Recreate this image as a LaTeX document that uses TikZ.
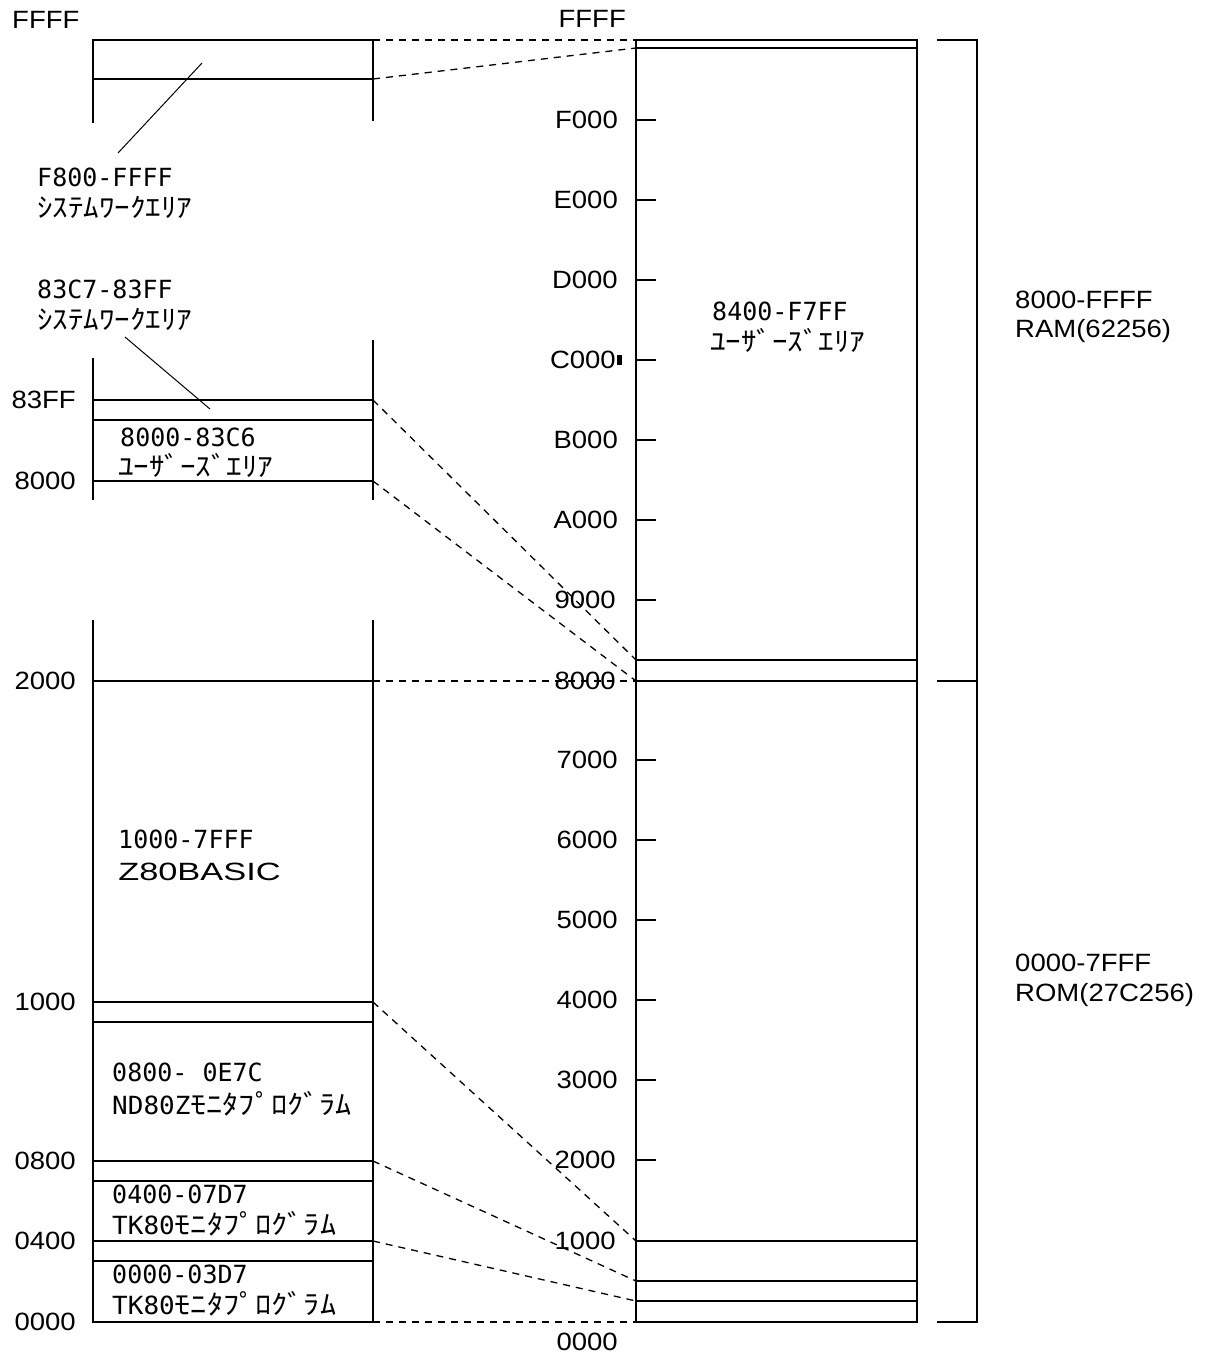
\documentclass[tikz,border=0pt]{standalone}
\usepackage{fontspec}
\newfontfamily\lab[FakeStretch=1.1]{Liberation Sans}
\newfontfamily\mono{DejaVu Sans Mono}
\newfontfamily\jp[FakeStretch=1.15]{Noto Sans CJK JP}
\newcommand{\asc}[1]{{\mono\fontsize{25}{25}\selectfont #1}}
\begin{document}
\begin{tikzpicture}[x=1pt,y=-1pt,
  box/.style={line width=1.3pt},
  dashc/.style={line width=1.3pt, dash pattern=on 7pt off 6pt},
  addr/.style={font=\lab\fontsize{25}{25}\selectfont, inner sep=0pt},
  code/.style={font=\mono\fontsize{25}{25}\selectfont, inner sep=0pt, anchor=west,
    text height=18pt, text depth=1pt},
  kana/.style={font=\jp\fontsize{27}{27}\selectfont, inner sep=0pt, anchor=base west,
    text height=20pt, text depth=1pt},
  lead/.style={line width=1pt}]
\useasboundingbox[fill=white] (0,0) rectangle (1215,1358);

% ---------- left column ----------
\draw[box] (93,123) -- (93,40) -- (373,40) -- (373,121);
\draw[box] (93,79) -- (373,79);
\draw[box] (93,358) -- (93,500);
\draw[box] (373,340) -- (373,500);
\foreach \y in {400,420,481} \draw[box] (93,\y) -- (373,\y);
\draw[box] (93,620) -- (93,1322) -- (373,1322) -- (373,620);
\foreach \y in {681,1002,1022,1161,1181,1241,1261} \draw[box] (93,\y) -- (373,\y);

\foreach \y in {40,79,400,481,681,1002,1161,1241,1322} \coordinate (L\y) at (373,\y);

% ---------- right column ----------
\draw[box] (636,40) rectangle (917,1322);
\foreach \y in {48,660,681,1241,1281,1301} \draw[box] (636,\y) -- (917,\y);
\foreach \y in {120,200,280,360,440,520,600,760,840,920,1000,1080,1160}
  \draw[box] (636,\y) -- (656,\y);
\foreach \y in {40,48,660,681,1241,1281,1301,1322} \coordinate (R\y) at (636,\y);

% ---------- bracket ----------
\draw[box] (937,40) -- (977,40) -- (977,1322) -- (937,1322);
\draw[box] (937,681) -- (977,681);

% ---------- dashed connectors ----------
\draw[dashc] (L40) -- (R40);
\draw[dashc] (L79) -- (R48);
\draw[dashc] (L400) -- (R660);
\draw[dashc] (L481) -- (R681);
\draw[dashc] (L681) -- (R681);
\draw[dashc] (L1002) -- (R1241);
\draw[dashc] (L1161) -- (R1281);
\draw[dashc] (L1241) -- (R1301);
\draw[dashc] (L1322) -- (R1322);

% ---------- left address labels ----------
\node[addr, anchor=west] (lFFFF) at (12,20) {FFFF};
\node[addr, anchor=east] (l83FF) at (76,400) {83FF};
\node[addr, anchor=east] (l8000) at (76,481) {8000};
\node[addr, anchor=east] (l2000) at (76,681) {2000};
\node[addr, anchor=east] (l1000) at (76,1002) {1000};
\node[addr, anchor=east] (l0800) at (76,1161) {0800};
\node[addr, anchor=east] (l0400) at (76,1241) {0400};
\node[addr, anchor=east] (l0000) at (76,1322) {0000};

% ---------- right address labels ----------
\node[addr, anchor=east] (rFFFF) at (626,19) {FFFF};
\node[addr, anchor=east] (rF000) at (618,120) {F000};
\node[addr, anchor=east] (rE000) at (618,200) {E000};
\node[addr, anchor=east] (rD000) at (618,280) {D000};
\node[addr, anchor=east] (rC000) at (616,360) {C000};
\fill (rC000.east) ++(1,-5) rectangle ++(5,10);
\node[addr, anchor=east] (rB000) at (618,440) {B000};
\node[addr, anchor=east] (rA000) at (618,520) {A000};
\node[addr, anchor=east] (r9000) at (616,600) {9000};
\node[addr, anchor=east] (r8000) at (616,681) {8000};
\node[addr, anchor=east] (r7000) at (618,760) {7000};
\node[addr, anchor=east] (r6000) at (618,840) {6000};
\node[addr, anchor=east] (r5000) at (618,920) {5000};
\node[addr, anchor=east] (r4000) at (618,1000) {4000};
\node[addr, anchor=east] (r3000) at (618,1080) {3000};
\node[addr, anchor=east] (r2000) at (616,1160) {2000};
\node[addr, anchor=east] (r1000) at (616,1241) {1000};
\node[addr, anchor=east] (r0000) at (618,1342) {0000};

% ---------- region labels ----------
\node[code] (t1) at (37,178) {F800-FFFF};
\node[kana] (k1) at (37,217) {ｼｽﾃﾑﾜｰｸｴﾘｱ};
\coordinate (p1a) at (118,153);
\coordinate (p1b) at (202,63);
\draw[lead] (p1a) -- (p1b);

\node[code] (t2) at (37,290) {83C7-83FF};
\node[kana] (k2) at (37,329) {ｼｽﾃﾑﾜｰｸｴﾘｱ};
\coordinate (p2a) at (125,337);
\coordinate (p2b) at (210,409);
\draw[lead] (p2a) -- (p2b);

\node[code] (t3) at (120,438) {8000-83C6};
\node[kana] (k3) at (118,476) {ﾕｰｻﾞｰｽﾞｴﾘｱ};

\node[code] (t4) at (712,312) {8400-F7FF};
\node[kana] (k4) at (710,351) {ﾕｰｻﾞｰｽﾞｴﾘｱ};

\node[code] (t5) at (118,840) {1000-7FFF};
\node[addr, anchor=west, xscale=1.25, transform shape] (k5) at (118,872) {Z80BASIC};

\node[code] (t6) at (112,1073) {0800- 0E7C};
\node[kana, xscale=1.04, transform shape] (k6) at (112,1114) {\asc{ND80Z}ﾓﾆﾀﾌﾟﾛｸﾞﾗﾑ};

\node[code] (t7) at (112,1195) {0400-07D7};
\node[kana, xscale=1.04, transform shape] (k7) at (112,1234) {\asc{TK80}ﾓﾆﾀﾌﾟﾛｸﾞﾗﾑ};

\node[code] (t8) at (112,1275) {0000-03D7};
\node[kana, xscale=1.04, transform shape] (k8) at (112,1314) {\asc{TK80}ﾓﾆﾀﾌﾟﾛｸﾞﾗﾑ};

% ---------- bracket labels ----------
\node[addr, anchor=west] (ram1) at (1015,300) {8000-FFFF};
\node[addr, anchor=west] (ram2) at (1015,331) {RAM(62256)};
\node[addr, anchor=west] (rom1) at (1015,963) {0000-7FFF};
\node[addr, anchor=west] (rom2) at (1015,995) {ROM(27C256)};
\end{tikzpicture}
\end{document}
